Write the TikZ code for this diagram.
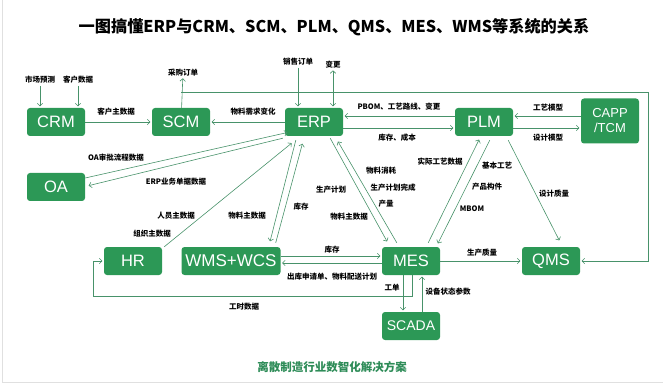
\documentclass[tikz,border=0pt]{standalone}
\usepackage{fontspec}
\setmainfont{Liberation Sans}
\newfontfamily\cjk{Noto Sans CJK SC}
\usetikzlibrary{arrows.meta,calc,positioning}
\definecolor{sysgreen}{RGB}{44,152,86}
\definecolor{linegreen}{RGB}{72,146,106}
\definecolor{capgreen}{RGB}{46,140,88}
\tikzset{
  sys/.style={rectangle,rounded corners=3pt,fill=sysgreen,text=white,font=\fontsize{16.5}{18}\selectfont,minimum width=58pt,minimum height=28pt,inner sep=1pt},
  lab/.style={font=\cjk\bfseries\fontsize{7.5}{8}\selectfont,inner sep=0pt},
  flow/.style={draw=linegreen,line width=0.6pt,shorten >=1.5pt,-{Straight Barb[length=2.6pt,width=5.5pt]}},
  flowboth/.style={flow,shorten <=1.5pt,{Straight Barb[length=2.6pt,width=5.5pt]}-{Straight Barb[length=2.6pt,width=5.5pt]}},
}

\begin{document}
\begin{tikzpicture}[x=1pt,y=-1pt]
\useasboundingbox (0,0) rectangle (663,387);
\draw[black!12,line width=0.8pt] (2,0) |- (663,382);
\node[font=\cjk\bfseries\fontsize{16.2}{18}\selectfont] (title) at (334,27) {一图搞懂ERP与CRM、SCM、PLM、QMS、MES、WMS等系统的关系};

% systems
\foreach \nm/\x/\y/\txt in {crm/56/122/CRM,scm/181/122/SCM,erp/314/122/ERP,plm/484/122/PLM,oa/56/187/OA,hr/133/261/HR,mes/411/261/MES,qms/551/261/QMS}
  \node[sys] (\nm) at (\x,\y) {\txt};
\node[sys,minimum width=99pt,font=\fontsize{17}{18}\selectfont] (wms) at (231,261) {WMS+WCS};
\node[sys,font=\fontsize{14}{15}\selectfont] (scada) at (411,326) {SCADA};
\node[sys,minimum height=45pt,align=center,font=\fontsize{13}{15}\selectfont] (capp) at (610,121) {CAPP\\/TCM};

% inputs on top
\node[lab] (mkt) at (40,80) {市场预测};
\node[lab] (cdata) at (78,80) {客户数据};
\node[lab] (po) at (183,73) {采购订单};
\node[lab] (so) at (298,62) {销售订单};
\node[lab] (chg) at (333,65) {变更};
\draw[flow,shorten <=2pt] (mkt) -- (mkt |- crm.north);
\draw[flow,shorten <=2pt] (cdata) -- (cdata |- crm.north);
\draw[flow] (scm) -- (po);
\draw[flow,shorten <=2pt] (so) -- (so |- erp.north);
\draw[flowboth] (chg) -- (chg |- erp.north);
\coordinate (loopa) at (181,92);
\coordinate (loopb) at (648,92);
\draw[flow] (loopa) -- (loopb) |- (qms.east);

% top row
\draw[flow] (crm) -- (scm);
\draw[flow] (erp) -- (scm);
\draw[flow] ([yshift=6pt]plm.west) -- ([yshift=6pt]erp.east);
\draw[flow] ([yshift=-6pt]erp.east) -- ([yshift=-6pt]plm.west);
\draw[flow] ([yshift=5pt]capp.west) -- ([yshift=6pt]plm.east);
\draw[flow] ([yshift=-6pt]plm.east) -- ([yshift=-7pt]capp.west);

% into and out of ERP
\draw[flow] ([yshift=9pt]oa.east) -- ([xshift=4pt,yshift=4pt]erp.south west);
\draw[flow] ([xshift=-2pt,yshift=-2pt]erp.south west) -- ([xshift=2pt,yshift=1pt]oa.east);
\draw[flow] ([xshift=2pt]hr.north east) -- ([xshift=8pt,yshift=-6pt]erp.south west);
\draw[flow] ([xshift=11pt,yshift=-4pt]erp.south west) -- ([xshift=-11pt,yshift=4pt]wms.north east);
\draw[flow] ([xshift=-5pt,yshift=4pt]wms.north east) -- ([xshift=18pt,yshift=-6pt]erp.south west);
\draw[flow] ([xshift=-13pt,yshift=-2pt]erp.south east) -- ([xshift=6pt,yshift=4pt]mes.north west);
\draw[flow] ([xshift=15pt,yshift=4pt]mes.north west) -- ([xshift=-6pt,yshift=-4pt]erp.south east);

% PLM side
\draw[flow] ([xshift=-12pt,yshift=4pt]mes.north east) -- ([xshift=25pt,yshift=-2pt]plm.south west);
\draw[flow] ([xshift=35pt,yshift=-4pt]plm.south west) -- ([xshift=-3pt,yshift=2pt]mes.north east);
\draw[flow] ([xshift=-5pt,yshift=-4pt]plm.south east) -- ([xshift=9pt,yshift=5pt]qms.north);

% bottom row
\draw[flow] ([yshift=5pt]wms.east) -- ([yshift=5pt]mes.west);
\draw[flow] ([yshift=-2pt]mes.west) -- ([yshift=-2pt]wms.east);
\draw[flow] (mes) -- (qms);
\draw[flow] ([xshift=-8pt]mes.south) -- ([xshift=-8pt]scada.north);
\draw[flow] ([xshift=11pt]scada.north) -- ([xshift=11pt]mes.south);
\coordinate (hrloop) at (93,296);
\draw[flow] ([xshift=1pt]mes.south) |- (hrloop) |- (hr.west);

% connector labels
\foreach \x/\y/\t in {116/112/客户主数据,253/112/物料需求变化,399/107/PBOM、工艺路线、变更,397/138/库存、成本,548/108/工艺模型,548/138/设计模型,116/158/OA审批流程数据,176/182/ERP业务单据数据,176/216/人员主数据,152/234/组织主数据,247/216/物料主数据,301/207/库存,331/190/生产计划,349/217/物料主数据,381/171/物料消耗,393/188/生产计划完成,386/204/产量,440/162/实际工艺数据,497/166/基本工艺,487/187/产品构件,472/209/MBOM,554/194/设计质量,332/250/库存,332/277/出库申请单、物料配送计划,482/253/生产质量,392/288/工单,448/292/设备状态参数,244/307/工时数据}
  \node[lab] (t-\x-\y) at (\x,\y) {\t};

\node[font=\cjk\bfseries\fontsize{11.5}{12}\selectfont,text=capgreen] (foot) at (332,367) {离散制造行业数智化解决方案};
\end{tikzpicture}
\end{document}
